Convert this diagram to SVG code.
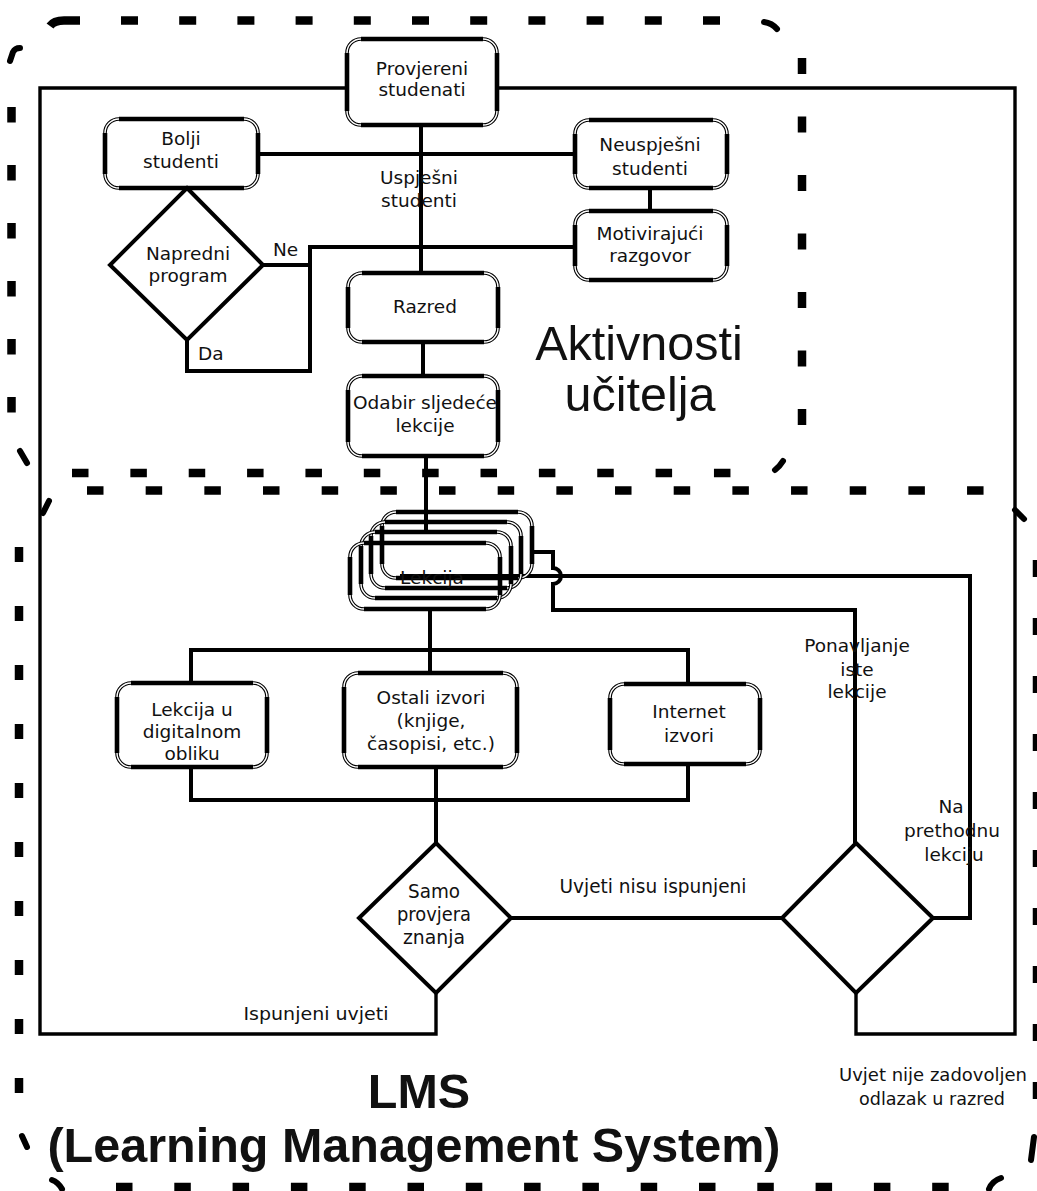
<svg xmlns="http://www.w3.org/2000/svg" width="1037" height="1191" viewBox="0 0 1037 1191">
<style>
.bo{fill:#fff;stroke:#000;stroke-width:3.6}
.bon{fill:none;stroke:#000;stroke-width:3.6}
.bi{fill:none;stroke:#fff;stroke-width:1.4}
.bs{fill:none;stroke:#000;stroke-width:4.6}
.dm{fill:#fff;stroke:#000;stroke-width:4;stroke-linejoin:miter}
.cn{fill:none;stroke:#000;stroke-width:4}
.ol{fill:none;stroke:#000;stroke-width:3.4}
.fr{fill:none;stroke:#000;stroke-width:8.5}
.mk{fill:none;stroke:#000;stroke-width:6;stroke-linecap:round}
.t{font-family:"DejaVu Sans",sans-serif;font-size:18.5px;fill:#111;text-anchor:middle}
.tl{font-family:"DejaVu Sans",sans-serif;font-size:18.5px;fill:#111}
.tc{font-family:"DejaVu Sans",sans-serif;font-size:20px;fill:#111;text-anchor:middle}
.big{font-family:"Liberation Sans",Arial,sans-serif;font-size:48.5px;fill:#111;text-anchor:middle}
.bb{font-family:"Liberation Sans",Arial,sans-serif;font-size:48.5px;font-weight:bold;fill:#111;text-anchor:middle}
</style>

<g id="frames">
  <!-- top region: Aktivnosti učitelja -->
  <line class="fr" x1="121" y1="20.5" x2="737" y2="20.5" stroke-dasharray="17 41.2"/>
  <path class="fr" d="M50 26 Q54 20.5 64 20.5 H80"/>
  <path class="mk" d="M10 61 L13 52 Q15 48 20 48"/>
  <line class="fr" x1="11.5" y1="107" x2="11.5" y2="413" stroke-dasharray="15.5 42.5"/>
  <path class="mk" d="M20 451 L27 463"/>
  <line class="fr" x1="802" y1="58" x2="802" y2="425" stroke-dasharray="16 42.5"/>
  <path class="mk" d="M764 22 Q772 23 777 29"/>
  <line class="fr" x1="72" y1="473" x2="731" y2="473" stroke-dasharray="16.5 41.86"/>
  <path class="mk" d="M775 470 Q780 466 783 461"/>
  <!-- bottom region: LMS -->
  <line class="fr" x1="87" y1="490.5" x2="984" y2="490.5" stroke-dasharray="16.5 42.17"/>
  <path class="mk" d="M49 501 L43 513"/>
  <path class="mk" d="M1015 510 L1024 519"/>
  <line class="fr" x1="19" y1="547" x2="19" y2="1093" stroke-dasharray="15 44"/>
  <path class="mk" d="M22 1136 L27 1147"/>
  <path class="mk" d="M52 1180 Q58 1182 62 1189"/>
  <line class="fr" x1="116" y1="1187" x2="950" y2="1187" stroke-dasharray="16.5 41.8"/>
  <path class="mk" d="M989 1189 Q992 1181 1001 1178"/>
  <path class="mk" d="M1034 1137 L1031 1160"/>
  <line class="fr" x1="1037" y1="560" x2="1037" y2="1100" stroke-dasharray="17 41"/>
</g>

<g id="outer-lines">
  <path class="ol" d="M347 88H40V1034H436V993"/>
  <path class="ol" d="M497 88H1015V1034H856V993"/>
</g>

<g id="connectors">
  <path class="cn" d="M421 125V273"/>
  <path class="cn" d="M258 154H575"/>
  <path class="cn" d="M650 188V211"/>
  <path class="cn" d="M263 265H310V247H575"/>
  <path class="cn" d="M187 340V371H310V265"/>
  <path class="cn" d="M423 342V376"/>
  <path class="cn" d="M426 456V532"/>
  <path class="cn" d="M430 609V673"/>
  <path class="cn" d="M191 683V650H688V684"/>
  <path class="cn" d="M191 767V800H688V764"/>
  <path class="cn" d="M436 767V843"/>
  <path class="cn" d="M511 918H782"/>
  <path class="cn" d="M933 918H970V576H400"/>
  <path class="cn" d="M532 552H553V568A8 8 0 0 1 553 584V610H855V843"/>
</g>

<g id="provjereni">
  <rect class="bo" x="347" y="39" width="150" height="86" rx="14"/>
  <rect class="bi" x="347" y="39" width="150" height="86" rx="14"/>
  <path class="bs" d="M361 39H483M497 53V111M483 125H361M347 111V53"/>
  <text class="t" x="422" y="75">Provjereni</text>
  <text class="t" x="422" y="96">studenati</text>
</g>

<g id="bolji">
  <rect class="bo" x="105" y="119" width="153" height="69" rx="14"/>
  <rect class="bi" x="105" y="119" width="153" height="69" rx="14"/>
  <path class="bs" d="M119 119H244M258 133V174M244 188H119M105 174V133"/>
  <text class="t" x="181" y="145">Bolji</text>
  <text class="t" x="181" y="168">studenti</text>
</g>

<g id="neuspjesni">
  <rect class="bo" x="575" y="120" width="152" height="68" rx="14"/>
  <rect class="bi" x="575" y="120" width="152" height="68" rx="14"/>
  <path class="bs" d="M589 120H713M727 134V174M713 188H589M575 174V134"/>
  <text class="t" x="650" y="151">Neuspješni</text>
  <text class="t" x="650" y="175">studenti</text>
</g>

<g id="motivirajuci">
  <rect class="bo" x="575" y="211" width="152" height="69" rx="14"/>
  <rect class="bi" x="575" y="211" width="152" height="69" rx="14"/>
  <path class="bs" d="M589 211H713M727 225V266M713 280H589M575 266V225"/>
  <text class="t" x="650" y="240">Motivirajući</text>
  <text class="t" x="650" y="262">razgovor</text>
</g>

<g id="napredni">
  <path class="dm" d="M187 188L263 265L187 340L110 265Z"/>
  <text class="t" x="188" y="260">Napredni</text>
  <text class="t" x="188" y="282">program</text>
</g>

<g id="razred">
  <rect class="bo" x="348" y="273" width="150" height="69" rx="14"/>
  <rect class="bi" x="348" y="273" width="150" height="69" rx="14"/>
  <path class="bs" d="M362 273H484M498 287V328M484 342H362M348 328V287"/>
  <text class="t" x="425" y="313">Razred</text>
</g>

<g id="odabir">
  <rect class="bo" x="348" y="376" width="150" height="80" rx="14"/>
  <rect class="bi" x="348" y="376" width="150" height="80" rx="14"/>
  <path class="bs" d="M362 376H484M498 390V442M484 456H362M348 442V390"/>
  <text class="t" x="425" y="409">Odabir sljedeće</text>
  <text class="t" x="425" y="432">lekcije</text>
</g>

<g id="lekcija">
  <rect class="bon" x="382" y="512" width="150" height="66" rx="14"/>
  <rect class="bi" x="382" y="512" width="150" height="66" rx="14"/>
  <path class="bs" d="M396 512H518M532 526V564M518 578H396M382 564V526"/>
  <rect class="bon" x="371" y="522" width="150" height="66" rx="14"/>
  <rect class="bi" x="371" y="522" width="150" height="66" rx="14"/>
  <path class="bs" d="M385 522H507M521 536V574M507 588H385M371 574V536"/>
  <rect class="bon" x="361" y="532" width="150" height="66" rx="14"/>
  <rect class="bi" x="361" y="532" width="150" height="66" rx="14"/>
  <path class="bs" d="M375 532H497M511 546V584M497 598H375M361 584V546"/>
  <rect class="bon" x="350" y="543" width="150" height="66" rx="14"/>
  <rect class="bi" x="350" y="543" width="150" height="66" rx="14"/>
  <path class="bs" d="M364 543H486M500 557V595M486 609H364M350 595V557"/>
  <text class="t" x="432" y="584">Lekcija</text>
</g>

<g id="digitalni">
  <rect class="bo" x="117" y="683" width="150" height="84" rx="14"/>
  <rect class="bi" x="117" y="683" width="150" height="84" rx="14"/>
  <path class="bs" d="M131 683H253M267 697V753M253 767H131M117 753V697"/>
  <text class="t" x="192" y="716">Lekcija u</text>
  <text class="t" x="192" y="738">digitalnom</text>
  <text class="t" x="192" y="760">obliku</text>
</g>

<g id="ostali">
  <rect class="bo" x="344" y="673" width="173" height="94" rx="14"/>
  <rect class="bi" x="344" y="673" width="173" height="94" rx="14"/>
  <path class="bs" d="M358 673H503M517 687V753M503 767H358M344 753V687"/>
  <text class="t" x="431" y="704">Ostali izvori</text>
  <text class="t" x="431" y="727">(knjige,</text>
  <text class="t" x="431" y="750">časopisi, etc.)</text>
</g>

<g id="internet">
  <rect class="bo" x="610" y="684" width="150" height="80" rx="14"/>
  <rect class="bi" x="610" y="684" width="150" height="80" rx="14"/>
  <path class="bs" d="M624 684H746M760 698V750M746 764H624M610 750V698"/>
  <text class="t" x="689" y="718">Internet</text>
  <text class="t" x="689" y="742">izvori</text>
</g>

<g id="samo">
  <path class="dm" d="M436 843L511 918L436 993L359 918Z"/>
  <text class="tc" x="434" y="898" textLength="52" lengthAdjust="spacingAndGlyphs">Samo</text>
  <text class="tc" x="434" y="921" textLength="74" lengthAdjust="spacingAndGlyphs">provjera</text>
  <text class="tc" x="434" y="944" textLength="62" lengthAdjust="spacingAndGlyphs">znanja</text>
</g>

<g id="uvjet-odluka">
  <path class="dm" d="M856 843L933 918L856 993L782 918Z"/>
</g>

<g id="labels">
  <text class="t" x="419" y="184">Uspješni</text>
  <text class="t" x="419" y="207">studenti</text>
  <text class="tl" x="273" y="256">Ne</text>
  <text class="tl" x="198" y="360">Da</text>
  <text class="t" x="857" y="652">Ponavljanje</text>
  <text class="t" x="857" y="676">iste</text>
  <text class="t" x="857" y="698">lekcije</text>
  <text class="t" x="951" y="813">Na</text>
  <text class="t" x="952" y="837">prethodnu</text>
  <text class="t" x="954" y="861">lekciju</text>
  <text class="tc" x="653" y="893" textLength="187" lengthAdjust="spacingAndGlyphs">Uvjeti nisu ispunjeni</text>
  <text class="t" x="316" y="1020" textLength="145" lengthAdjust="spacingAndGlyphs">Ispunjeni uvjeti</text>
  <text class="t" x="933" y="1081" textLength="188" lengthAdjust="spacingAndGlyphs">Uvjet nije zadovoljen</text>
  <text class="t" x="932" y="1105" textLength="146" lengthAdjust="spacingAndGlyphs">odlazak u razred</text>
  <text class="big" x="639" y="360">Aktivnosti</text>
  <text class="big" x="640" y="411">učitelja</text>
  <text class="bb" x="419" y="1108">LMS</text>
  <text class="bb" x="414" y="1162">(Learning Management System)</text>
</g>
</svg>
